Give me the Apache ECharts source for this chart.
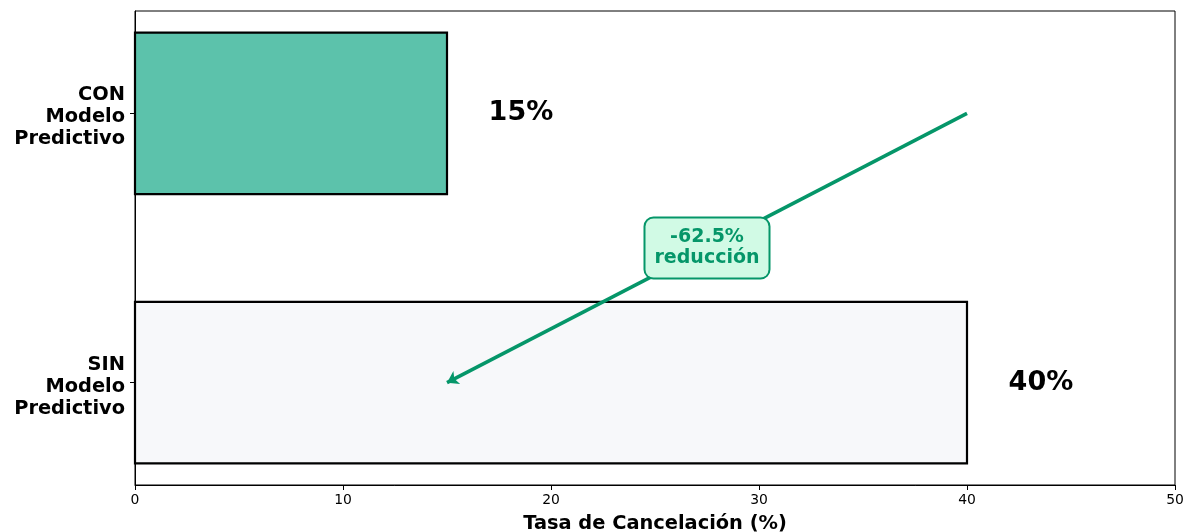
<!DOCTYPE html>
<html>
<head>
<meta charset="utf-8">
<script src="https://cdn.jsdelivr.net/npm/echarts@6/dist/echarts.min.js"></script>
<style>html,body{margin:0;padding:0;background:#fff}#c{width:1194px;height:532px}</style>
</head>
<body>
<div id="c"></div>
<script>
const categories = ['SIN\nModelo\nPredictivo', 'CON\nModelo\nPredictivo'];
const values = [40, 15];
const barColors = ['#f7f8fa', '#5cc2ab'];
const valueLabels = ['40%', '15%'];
const xTicks = [0, 10, 20, 30, 40, 50];
const arrowFrom = [40, 1];
const arrowTo = [15, 0];
const annotationText = '-62.5%\nreducción';
const xTitle = 'Tasa de Cancelación (%)';

const font = 'DejaVu Sans';
const chart = echarts.init(document.getElementById('c'), null, {renderer: 'canvas'});

const barData = values.map((v, i) => [v, i]);

function catLabel(v) {
  const s = categories[Math.round(v)];
  if (!s) return '';
  return '{s| }\n' + s.split('\n').map(l => '{t|' + l + '}').join('\n');
}

chart.setOption({
  animation: false,
  backgroundColor: '#fff',
  grid: {left: 135, right: 19, top: 11, bottom: 47, show: true, borderColor: '#000', borderWidth: 1,
         backgroundColor: 'transparent', containLabel: false, outerBoundsMode: 'none'},
  xAxis: {
    type: 'value', min: 0, max: 50, interval: 10,
    axisLine: {show: true, onZero: false, lineStyle: {color: '#000', width: 1}},
    axisTick: {show: true, length: 5, lineStyle: {color: '#000'}},
    axisLabel: {color: '#000', fontFamily: font, fontSize: 13.9, margin: 8},
    splitLine: {show: false},
    name: xTitle, nameLocation: 'middle', nameGap: 29,
    nameTextStyle: {color: '#000', fontFamily: font, fontSize: 19.4, fontWeight: 'bold'}
  },
  yAxis: {
    type: 'value', min: -0.38, max: 1.38,
    axisLine: {show: true, onZero: false, lineStyle: {color: '#000', width: 1}},
    axisTick: {show: true, length: 5, customValues: [0, 1], lineStyle: {color: '#000'}},
    axisLabel: {
      customValues: [0, 1],
      formatter: catLabel,
      align: 'right', margin: 10,
      rich: {
        s: {fontSize: 2, lineHeight: 8, height: 8},
        t: {color: '#000', fontFamily: font, fontSize: 19.4, fontWeight: 'bold', lineHeight: 22, align: 'right'}
      }
    },
    splitLine: {show: false}
  },
  series: [
    {
      type: 'custom',
      data: barData,
      renderItem: function (params, api) {
        const v = api.value(0), idx = api.value(1);
        const p0 = api.coord([0, idx]);
        const p1 = api.coord([v, idx]);
        const h = api.size([0, 0.6])[1];
        const lp = api.coord([v + 2, idx]);
        return {
          type: 'group',
          children: [
            {type: 'rect', shape: {x: p0[0], y: p0[1] - h / 2, width: p1[0] - p0[0], height: h},
             style: {fill: barColors[idx], stroke: '#000', lineWidth: 2.2}},
            {type: 'text', x: lp[0], y: lp[1],
             style: {text: valueLabels[idx], fill: '#000', font: 'bold 27px "DejaVu Sans"', align: 'left', verticalAlign: 'middle'}}
          ]
        };
      },
      z: 2
    },
    {
      type: 'lines',
      coordinateSystem: 'cartesian2d',
      polyline: false,
      symbol: ['none', 'arrow'],
      symbolSize: [0, 11],
      lineStyle: {color: '#059669', width: 3.5, opacity: 1, curveness: 0},
      data: [{coords: [arrowFrom, arrowTo]}],
      z: 3
    },
    {
      type: 'scatter',
      symbolSize: 0,
      itemStyle: {opacity: 1},
      emphasis: {disabled: true},
      data: [[(arrowFrom[0] + arrowTo[0]) / 2, (arrowFrom[1] + arrowTo[1]) / 2]],
      label: {
        show: true, position: 'inside', formatter: annotationText,
        color: '#059669', fontFamily: font, fontSize: 19, fontWeight: 'bold', lineHeight: 21,
        backgroundColor: '#d1fae5', borderColor: '#059669', borderWidth: 2, borderRadius: 8,
        padding: [9, 9, 8, 9], align: 'center', verticalAlign: 'middle', opacity: 1
      },
      z: 4
    }
  ]
});
</script>
</body>
</html>
